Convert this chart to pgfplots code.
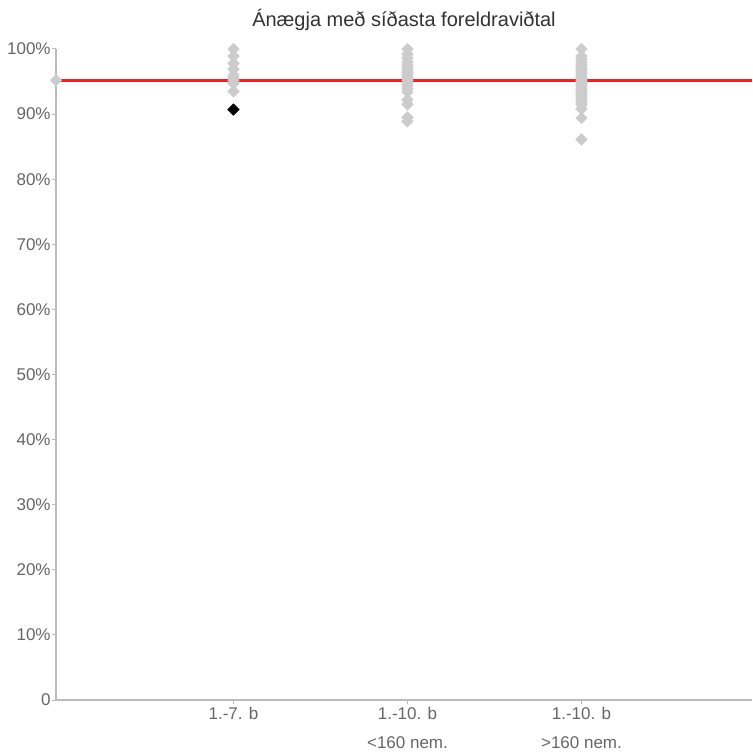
\documentclass[border=0pt]{standalone}
\usepackage{fontspec}
\setmainfont{Liberation Sans}
\usepackage{pgfplots}
\pgfplotsset{compat=1.18}
\definecolor{axgray}{HTML}{BBBBBB}
\definecolor{ptgray}{HTML}{CCCCCC}
\definecolor{lblgray}{HTML}{666666}
\definecolor{ttl}{HTML}{333333}
\definecolor{avgred}{HTML}{FF1A1A}
\begin{document}
\begin{tikzpicture}
\begin{axis}[
  at={(0,0)}, anchor=south west,
  scale only axis,
  width=348pt, height=325.5pt,
  xmin=-1.02, xmax=2.98, ymin=0, ymax=100,
  axis x line*=bottom, axis y line*=left,
  axis line style={axgray, line width=0.6pt},
  tick style={axgray, line width=0.5pt},
  tick align=outside, major tick length=2pt,
  xtick={0,1,2},
  xticklabels={{1.-7. b},{1.-10. b\\<160 nem.},{1.-10. b\\>160 nem.}},
  xticklabel style={align=center, font=\fontsize{8.5}{14.5}\selectfont, text=lblgray, yshift=2pt},
  ytick={0,10,...,100},
  yticklabels={0,10\%,20\%,30\%,40\%,50\%,60\%,70\%,80\%,90\%,100\%},
  yticklabel style={font=\fontsize{8.5}{10}\selectfont, text=lblgray, inner sep=0.5pt},
  clip=false,
]
% average line
\addplot[avgred, line width=1.5pt, mark=none] coordinates {(-1.02,95.2) (2.98,95.2)};
\addplot[only marks, mark=square*, mark size=2pt, mark options={rotate=45, draw=ptgray, fill=ptgray}] coordinates {(-1.02,95.2)};
% category 0
\addplot[only marks, mark=square*, mark size=2pt, mark options={rotate=45, draw=ptgray, fill=ptgray}] coordinates {
(0,100) (0,98.9) (0,97.8) (0,96.9) (0,96.0) (0,95.6) (0,95.2) (0,94.7) (0,93.5)
};
% category 1
\addplot[only marks, mark=square*, mark size=2pt, mark options={rotate=45, draw=ptgray, fill=ptgray}] coordinates {
(1,100) (1,99.2) (1,98.6) (1,98.0) (1,97.6) (1,97.2) (1,96.8) (1,96.4) (1,96.0) (1,95.6) (1,95.2) (1,94.8) (1,94.4) (1,93.9) (1,93.4) (1,92.2) (1,91.5) (1,89.5) (1,88.9)
};
% category 2
\addplot[only marks, mark=square*, mark size=2pt, mark options={rotate=45, draw=ptgray, fill=ptgray}] coordinates {
(2,100) (2,98.9) (2,98.4) (2,98.0) (2,97.6) (2,97.2) (2,96.9) (2,96.6) (2,96.3) (2,96.0) (2,95.7) (2,95.4) (2,95.1) (2,94.8) (2,94.5) (2,94.2) (2,93.9) (2,93.6) (2,93.3) (2,93.0) (2,92.6) (2,92.2) (2,91.8) (2,91.4) (2,90.8) (2,89.4) (2,86.1)
};
% highlighted school
\addplot[only marks, mark=square*, mark size=2pt, mark options={rotate=45, draw=black, fill=black}] coordinates {(0,90.7)};
\node[font=\fontsize{10}{12}\selectfont, text=ttl] at (rel axis cs:0.5,1) [yshift=14.5pt] {Ánægja með síðasta foreldraviðtal};
\end{axis}
\pgfresetboundingbox
\path (-28pt,-28pt) rectangle (348pt,350pt);
\end{tikzpicture}
\end{document}
